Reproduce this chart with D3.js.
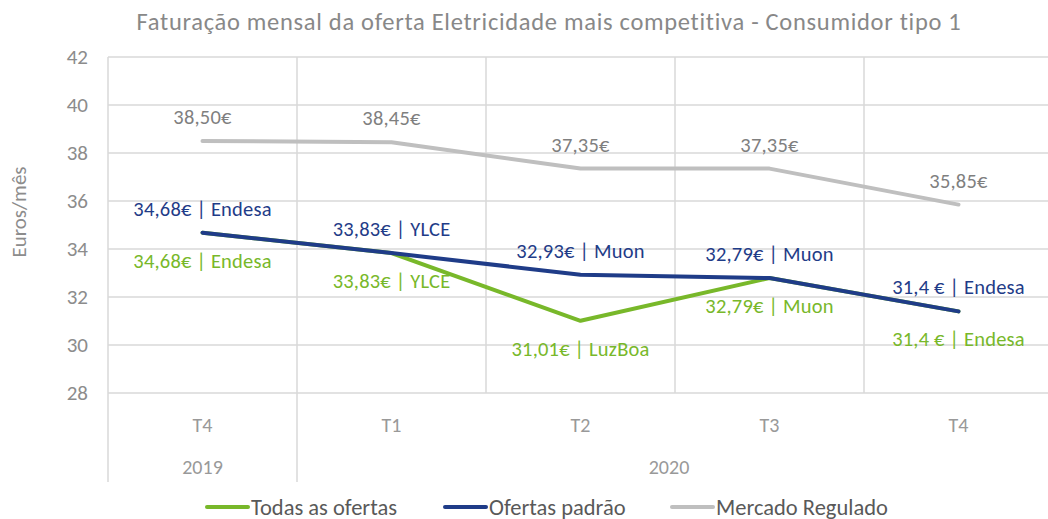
<!DOCTYPE html>
<html>
<head>
<meta charset="utf-8">
<script src="https://cdn.jsdelivr.net/npm/d3@7"></script>
<style>
  html, body { margin: 0; padding: 0; background: #fff; }
  svg { display: block; font-family: Carlito, Lato, "Open Sans", sans-serif; }
</style>
</head>
<body>
<svg id="chart" width="1048" height="519"></svg>
<script>
const categories = ["T4", "T1", "T2", "T3", "T4"];
const years = [{ label: "2019", from: 0, to: 1 }, { label: "2020", from: 1, to: 5 }];
const yTicks = [28, 30, 32, 34, 36, 38, 40, 42];

const todasValues = [34.68, 33.83, 31.01, 32.79, 31.4];
const todasLabels = ["34,68€ | Endesa", "33,83€ | YLCE", "31,01€ | LuzBoa", "32,79€ | Muon", "31,4 € | Endesa"];
const padraoValues = [34.68, 33.83, 32.93, 32.79, 31.4];
const padraoLabels = ["34,68€ | Endesa", "33,83€ | YLCE", "32,93€ | Muon", "32,79€ | Muon", "31,4 € | Endesa"];
const reguladoValues = [38.50, 38.45, 37.35, 37.35, 35.85];
const reguladoLabels = ["38,50€", "38,45€", "37,35€", "37,35€", "35,85€"];

const seriesNames = ["Todas as ofertas", "Ofertas padrão", "Mercado Regulado"];

(function () {
const GREEN = "#78b82a", BLUE = "#1f3c88", GRAY = "#bfbfbf";
const GRID = "#d9d9d9", TXT = "#8c8c8c";

const svg = d3.select("#chart");
const pL = 108, pR = 1053, pT = 57, pB = 393;

const x = d3.scaleBand().domain(d3.range(categories.length)).range([pL, pR]);
const y = d3.scaleLinear().domain([28, 42]).range([pB, pT]);
const bx = i => i < categories.length ? x(i) : pR;

// title
svg.append("text").attr("x", 549).attr("y", 30).attr("text-anchor", "middle")
  .attr("font-size", 24.5).attr("fill", "#888888").attr("font-weight", 300)
  .attr("letter-spacing", 0.7)
  .text("Faturação mensal da oferta Eletricidade mais competitiva - Consumidor tipo 1");

// horizontal gridlines
svg.append("g").selectAll("line").data(yTicks).join("line")
  .attr("x1", pL).attr("x2", 1048).attr("y1", d => y(d)).attr("y2", d => y(d))
  .attr("stroke", GRID).attr("stroke-width", 1.5);

// vertical gridlines at band boundaries
svg.append("g").selectAll("line").data(d3.range(categories.length + 1)).join("line")
  .attr("x1", bx).attr("x2", bx)
  .attr("y1", pT).attr("y2", pB)
  .attr("stroke", GRID).attr("stroke-width", 1.5);

// group separators below the axis
svg.append("g").selectAll("line").data([0, 1, 5]).join("line")
  .attr("x1", bx).attr("x2", bx)
  .attr("y1", pB).attr("y2", 482)
  .attr("stroke", GRID).attr("stroke-width", 1.5);

// y tick labels
const yAxis = d3.axisLeft(y).tickValues(yTicks).tickSize(0).tickPadding(20);
const ya = svg.append("g").attr("transform", `translate(${pL},0)`).call(yAxis);
ya.select(".domain").remove();
ya.selectAll("text").attr("font-size", 21).attr("fill", TXT).attr("font-family", "Carlito, Lato, sans-serif");

// y axis title
svg.append("text").attr("transform", "translate(26,212) rotate(-90)").attr("text-anchor", "middle")
  .attr("font-size", 21).attr("fill", TXT).text("Euros/mês");

// category labels
svg.append("g").selectAll("text").data(categories).join("text")
  .attr("x", (d, i) => x(i) + x.bandwidth() / 2).attr("y", 432).attr("text-anchor", "middle")
  .attr("font-size", 20).attr("fill", "#999999").attr("font-weight", 300).text(d => d);

// year labels
svg.append("g").selectAll("text").data(years).join("text")
  .attr("x", d => (bx(d.from) + bx(d.to)) / 2 + (d.to >= categories.length ? -6 : 0))
  .attr("y", 474).attr("text-anchor", "middle")
  .attr("font-size", 20).attr("fill", "#999999").attr("font-weight", 300).text(d => d.label);

const cx = i => x(i) + x.bandwidth() / 2;
const line = d3.line().x((d, i) => cx(i)).y(d => y(d));

const series = [
  { values: reguladoValues, labels: reguladoLabels, color: GRAY, textColor: "#7f7f7f", dy: -24 },
  { values: todasValues, labels: todasLabels, color: GREEN, textColor: GREEN, dy: 28 },
  { values: padraoValues, labels: padraoLabels, color: BLUE, textColor: BLUE, dy: -24 }
];

series.forEach(s => {
  svg.append("path").datum(s.values).attr("d", line)
    .attr("fill", "none").attr("stroke", s.color).attr("stroke-width", 4)
    .attr("stroke-linejoin", "round").attr("stroke-linecap", "round");
});
series.forEach(s => {
  svg.append("g").selectAll("text").data(s.values).join("text")
    .attr("x", (d, i) => cx(i)).attr("y", d => y(d) + s.dy)
    .attr("text-anchor", "middle").attr("dominant-baseline", "central")
    .attr("font-size", 20.5).attr("letter-spacing", 0.2).attr("fill", s.textColor)
    .text((d, i) => s.labels[i]);
});

// legend
const legendColors = [GREEN, BLUE, GRAY];
const legendX = [207, 445, 672];
const lg = svg.append("g").selectAll("g").data(seriesNames).join("g")
  .attr("transform", (d, i) => `translate(${legendX[i]},507)`);
lg.append("line").attr("x1", 0).attr("x2", 41).attr("y1", 0).attr("y2", 0)
  .attr("stroke", (d, i) => legendColors[i]).attr("stroke-width", 4).attr("stroke-linecap", "round");
lg.append("text").attr("x", 44).attr("y", 0).attr("dominant-baseline", "central")
  .attr("font-size", 22.5).attr("fill", "#595959").attr("font-weight", 300).text(d => d);
})();
</script>
</body>
</html>
